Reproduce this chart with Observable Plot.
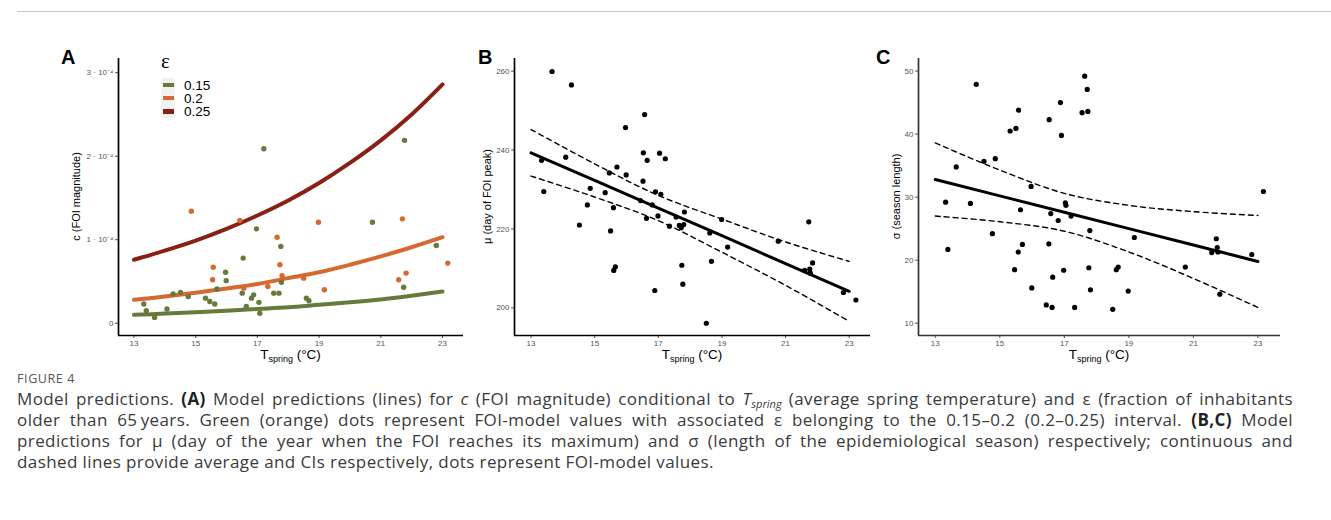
<!DOCTYPE html>
<html><head><meta charset="utf-8">
<script src="https://cdn.jsdelivr.net/npm/d3@7"></script>
<script src="https://cdn.jsdelivr.net/npm/@observablehq/plot@0.6"></script>
<style>
body{margin:0;background:#fff;width:1331px;height:520px;overflow:hidden;position:relative;font-family:"Liberation Sans",Arial,sans-serif;}
#topline{position:absolute;left:17px;right:0;top:11px;border-top:1px solid #c8c8c8;}
.panel{position:absolute;top:40px;}
.plab{position:absolute;top:47px;font:bold 20px/20px "Liberation Sans",Arial,sans-serif;color:#000;}
.lg{position:absolute;white-space:nowrap;}
#caption{position:absolute;left:17px;top:371px;font-family:"Open Sans",sans-serif;color:#3a3a3a;white-space:nowrap;}
#caption .fig{font-size:12.5px;letter-spacing:0.6px;color:#555;line-height:16px;margin-bottom:1px;}
#caption .ln{font-size:17px;letter-spacing:0.4px;line-height:21px;width:1276px;}
#caption .j{text-align:justify;text-align-last:justify;}
#caption sub{font-size:11px;line-height:0;vertical-align:-3px;letter-spacing:0;}
#caption b{color:#222;}
</style>
</head><body>
<div id="topline"></div>
<div id="root"></div>
<div class="plab" style="left:61px">A</div>
<div class="plab" style="left:478px">B</div>
<div class="plab" style="left:876px">C</div>
<div id="legend"></div>
<div id="caption">
<div class="fig">FIGURE 4</div>
<div class="ln j">Model predictions. <b>(A)</b> Model predictions (lines) for <i>c</i> (FOI magnitude) conditional to <i>T<sub>spring</sub></i> (average spring temperature) and ε (fraction of inhabitants</div>
<div class="ln j">older than 65&#8201;years. Green (orange) dots represent FOI-model values with associated ε belonging to the 0.15–0.2 (0.2–0.25) interval. <b>(B,C)</b> Model</div>
<div class="ln j">predictions for μ (day of the year when the FOI reaches its maximum) and σ (length of the epidemiological season) respectively; continuous and</div>
<div class="ln">dashed lines provide average and CIs respectively, dots represent FOI-model values.</div>
</div>
<script>
// ---------- shared ----------
const xTicks = [13, 15, 17, 19, 21, 23];

// ---------- Panel A (c in units of 1e-4) ----------
const epsLevels = ["0.15", "0.2", "0.25"];
const epsColors = ["#667a3b", "#d6692f", "#8a2014"];
const tCurve = [13, 14, 15, 16, 17, 18, 19, 20, 21, 22, 23];
const cEps015 = [0.10, 0.115, 0.13, 0.15, 0.17, 0.19, 0.22, 0.25, 0.285, 0.33, 0.38];
const cEps020 = [0.28, 0.32, 0.365, 0.415, 0.47, 0.54, 0.61, 0.70, 0.80, 0.91, 1.03];
const cEps025 = [0.76, 0.87, 0.99, 1.13, 1.29, 1.47, 1.68, 1.92, 2.19, 2.50, 2.86];
const greenDots = [[13.32,0.23],[13.40,0.15],[13.67,0.07],[14.07,0.17],[14.27,0.35],[14.51,0.37],[14.76,0.32],[15.32,0.30],[15.46,0.26],[15.62,0.23],[15.69,0.41],[15.97,0.61],[15.99,0.51],[16.51,0.36],[16.54,0.78],[16.64,0.20],[16.81,0.30],[16.88,0.34],[16.97,1.13],[17.05,0.25],[17.08,0.12],[17.21,2.09],[17.53,0.36],[17.70,0.36],[17.76,0.92],[17.78,0.49],[18.59,0.30],[18.67,0.27],[20.73,1.21],[21.74,0.43],[21.77,2.19],[22.80,0.93]];
const orangeDots = [[14.86,1.34],[15.55,0.52],[15.57,0.67],[16.43,1.23],[16.56,0.42],[17.34,0.44],[17.64,1.03],[17.73,0.70],[17.80,0.57],[18.50,0.54],[18.98,1.21],[19.17,0.40],[21.58,0.52],[21.70,1.25],[21.82,0.60],[23.17,0.72]];
const yTicksA = [0, 1, 2, 3];
const yTickLabelsA = ["0", "1 · 10⁻⁴", "2 · 10⁻⁴", "3 · 10⁻⁴"];

// ---------- Panel B ----------
const tCI = [13, 15, 17, 19, 21, 23];
const muFit = [239.3, 232.3, 225.3, 218.3, 211.2, 204.2];
const muUpper = [245.2, 236.5, 228.5, 222.5, 216.7, 211.8];
const muLower = [233.4, 228.1, 222.1, 214.1, 205.7, 196.6];
const muDots = [[13.66,259.9],[14.27,256.5],[16.57,249.0],[15.97,245.7],[14.09,238.2],[13.33,237.4],[13.40,229.5],[15.70,235.7],[15.46,234.2],[15.99,233.7],[14.86,230.3],[15.33,229.2],[16.53,239.3],[16.65,237.4],[17.04,239.2],[17.22,237.8],[16.52,232.1],[16.91,229.4],[17.08,228.8],[14.77,226.1],[15.59,225.4],[16.44,227.2],[16.81,226.1],[16.63,222.7],[16.99,223.3],[17.35,220.7],[14.52,221.0],[15.50,219.5],[15.60,209.5],[15.65,210.4],[16.89,204.4],[17.82,224.3],[17.56,223.0],[17.66,220.9],[17.72,220.3],[17.80,221.1],[18.99,222.4],[18.62,219.0],[19.18,215.4],[18.67,211.8],[17.74,210.8],[17.77,206.0],[18.51,196.1],[20.77,216.9],[21.73,221.8],[21.85,211.4],[21.76,209.8],[21.60,209.5],[21.78,208.8],[22.82,203.9],[23.21,202.0]];
const yTicksB = [200, 220, 240, 260];

// ---------- Panel C ----------
const sigmaFit = [32.8, 30.2, 27.6, 25.0, 22.4, 19.8];
const sigmaUpper = [38.6, 34.3, 30.6, 28.7, 27.7, 27.1];
const sigmaLower = [27.0, 26.1, 24.6, 21.3, 17.1, 12.5];
const sigmaDots = [[14.27,47.9],[16.88,45.0],[15.58,43.8],[16.53,42.3],[15.32,40.5],[15.50,40.9],[16.91,39.8],[14.51,35.7],[14.86,36.1],[13.65,34.8],[15.97,31.7],[17.63,49.2],[17.71,47.1],[17.55,43.4],[17.73,43.6],[23.17,30.9],[13.32,29.2],[14.09,29.0],[13.39,21.7],[14.77,24.2],[15.64,28.0],[15.57,21.3],[15.70,22.5],[15.46,18.5],[15.99,15.6],[16.44,12.9],[16.62,12.5],[16.52,22.6],[16.64,17.3],[16.98,18.4],[16.58,27.4],[16.81,26.3],[17.03,29.1],[17.05,28.7],[17.21,27.0],[17.32,12.5],[17.79,24.7],[19.17,23.6],[17.76,18.8],[17.81,15.3],[18.50,12.2],[18.61,18.5],[18.67,18.9],[18.98,15.1],[20.75,18.9],[21.71,23.4],[21.74,22.0],[21.76,21.3],[21.57,21.2],[21.82,14.6],[22.81,20.9]];
const yTicksC = [10, 20, 30, 40, 50];

// ---------- build ----------
const FONT = '"Liberation Sans", Arial, sans-serif';
const toRows = (xs, ys, extra) => xs.map((x, i) => ({x, y: ys[i], ...extra}));
const dotRows = (arr, extra) => arr.map(([x, y]) => ({x, y, ...extra}));

function panel(o) {
  const svg = Plot.plot({
    width: o.width, height: 330,
    marginLeft: o.mL, marginRight: o.mR, marginTop: 18, marginBottom: 35,
    style: {color: "#555", fontSize: "8px", fontFamily: FONT, background: "transparent", overflow: "visible"},
    x: {domain: o.xDom, ticks: xTicks, tickSize: 3, tickPadding: 2, label: null},
    y: {domain: o.yDom, ticks: o.yTicks, tickSize: 3, tickPadding: 2, tickFormat: o.yFmt, label: null},
    color: {domain: epsLevels, range: epsColors},
    marks: [
      Plot.ruleX([o.xDom[0]], {stroke: o.axisColor, strokeWidth: 1.7}),
      Plot.ruleY([o.yDom[0]], {stroke: o.axisColor, strokeWidth: 1.7}),
      ...o.marks
    ]
  });
  const s = d3.select(svg);
  const cx = (o.mL + o.width - o.mR) / 2;
  const t = s.append("text").attr("x", cx).attr("y", 318.5).attr("text-anchor", "middle")
    .attr("font-size", 13.5).attr("fill", "#000").attr("font-family", FONT);
  t.append("tspan").text("T");
  t.append("tspan").attr("font-size", 9).attr("dy", 3).text("spring");
  t.append("tspan").attr("dy", -3).text(" (°C)");
  s.append("text").attr("transform", `translate(${o.yTitleX},156.5) rotate(-90)`)
    .attr("text-anchor", "middle").attr("dominant-baseline", "middle")
    .attr("font-size", 11).attr("fill", "#000").attr("font-family", FONT).text(o.yTitle);
  const div = document.createElement("div");
  div.className = "panel";
  div.style.left = o.left + "px";
  div.appendChild(svg);
  document.getElementById("root").appendChild(div);
}

// Panel A
const curveRows = [
  ...toRows(tCurve, cEps015, {eps: "0.15"}),
  ...toRows(tCurve, cEps020, {eps: "0.2"}),
  ...toRows(tCurve, cEps025, {eps: "0.25"})
];
const dotsA = [...dotRows(greenDots, {eps: "0.15"}), ...dotRows(orangeDots, {eps: "0.2"})];
panel({
  left: 50, width: 420, mL: 68, mR: 7,
  xDom: [12.5, 23.68], yDom: [-0.147, 3.17], yTicks: yTicksA,
  yFmt: d => yTickLabelsA[yTicksA.indexOf(d)],
  axisColor: "#000", yTitle: "c (FOI magnitude)", yTitleX: 27,
  marks: [
    Plot.line(curveRows, {x: "x", y: "y", z: "eps", stroke: "eps", strokeWidth: 4, curve: "catmull-rom"}),
    Plot.dot(dotsA, {x: "x", y: "y", fill: "eps", r: 2.7})
  ]
});

// Panel B
panel({
  left: 455, width: 420, mL: 59, mR: 5,
  xDom: [12.48, 23.67], yDom: [193.0, 263.2], yTicks: yTicksB, yFmt: d => String(d),
  axisColor: "#000", yTitle: "μ (day of FOI peak)", yTitleX: 33,
  marks: [
    Plot.line(toRows(tCI, muUpper), {x: "x", y: "y", stroke: "#000", strokeWidth: 1.4, strokeDasharray: "5,4", curve: "catmull-rom"}),
    Plot.line(toRows(tCI, muLower), {x: "x", y: "y", stroke: "#000", strokeWidth: 1.4, strokeDasharray: "5,4", curve: "catmull-rom"}),
    Plot.line(toRows(tCI, muFit), {x: "x", y: "y", stroke: "#000", strokeWidth: 3}),
    Plot.dot(dotRows(muDots), {x: "x", y: "y", fill: "#000", r: 2.6})
  ]
});

// Panel C
panel({
  left: 860, width: 425, mL: 58, mR: 5,
  xDom: [12.48, 23.70], yDom: [8.05, 52.0], yTicks: yTicksC, yFmt: d => String(d),
  axisColor: "#333", yTitle: "σ (season length)", yTitleX: 37,
  marks: [
    Plot.line(toRows(tCI, sigmaUpper), {x: "x", y: "y", stroke: "#000", strokeWidth: 1.4, strokeDasharray: "5,4", curve: "catmull-rom"}),
    Plot.line(toRows(tCI, sigmaLower), {x: "x", y: "y", stroke: "#000", strokeWidth: 1.4, strokeDasharray: "5,4", curve: "catmull-rom"}),
    Plot.line(toRows(tCI, sigmaFit), {x: "x", y: "y", stroke: "#000", strokeWidth: 3}),
    Plot.dot(dotRows(sigmaDots), {x: "x", y: "y", fill: "#000", r: 2.6})
  ]
});

// Legend for panel A
const lg = document.getElementById("legend");
const mk = (html, css) => { const d = document.createElement("div"); d.className = "lg"; d.innerHTML = html; d.style.cssText += css; lg.appendChild(d); return d; };
mk("ε", "left:161px;top:50px;font:21px/22px 'Liberation Serif',serif;color:#000;");
mk("", "left:161px;top:78px;width:14px;height:40px;background:#f2f2f2;");
epsLevels.forEach((lab, i) => {
  const cy = 85 + i * 13.2;
  mk("", `left:163px;top:${cy - 2.3}px;width:11px;height:4.6px;background:${epsColors[i]};`);
  mk(lab, `left:184px;top:${cy - 6.5}px;font:13.5px/13px ${FONT};color:#000;`);
});
</script>
</body></html>
